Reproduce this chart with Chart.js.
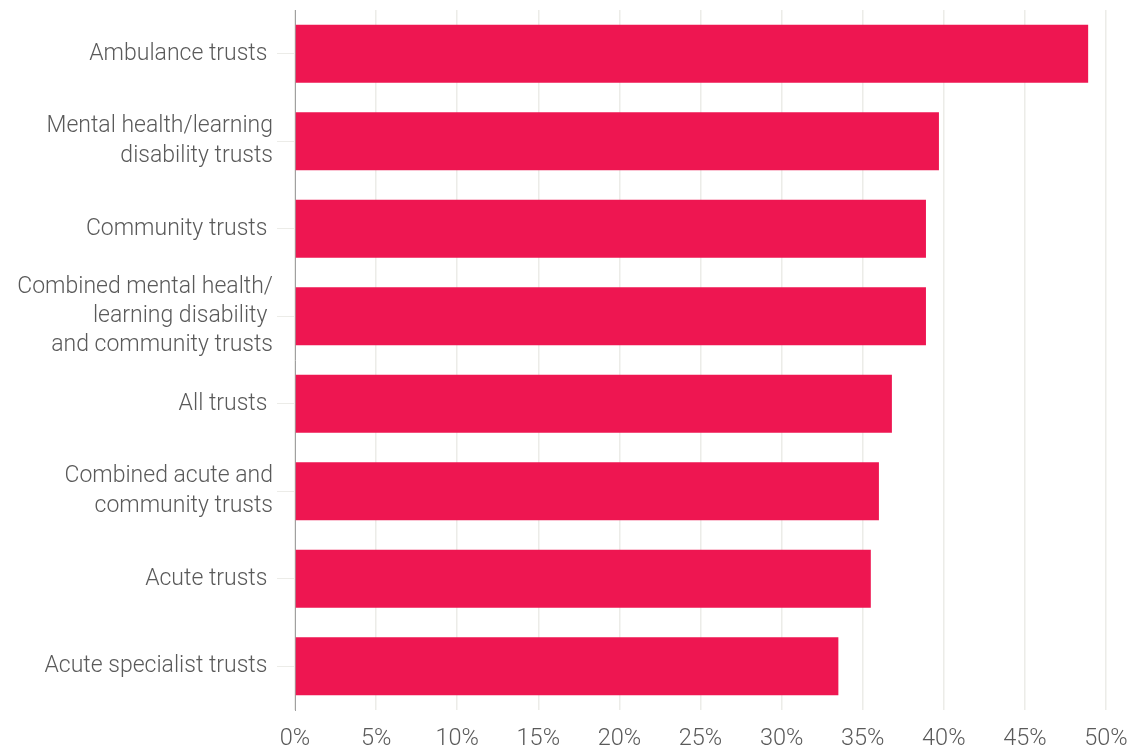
<!DOCTYPE html>
<html>
<head>
<meta charset="utf-8">
<script src="https://cdn.jsdelivr.net/npm/chart.js@4"></script>
<style>
  html, body { margin: 0; padding: 0; background: #ffffff; }
  #wrap { width: 1136px; height: 749px; position: relative; }
</style>
</head>
<body>
<div id="wrap"><canvas id="c"></canvas></div>
<script>
const categories = [
  ["Ambulance trusts "],
  ["Mental health/learning", "disability trusts"],
  ["Community trusts "],
  ["Combined mental health/", "learning disability ", "and community trusts"],
  ["All trusts "],
  ["Combined acute and", "community trusts"],
  ["Acute trusts "],
  ["Acute specialist trusts "]
];
const values = [48.9, 39.7, 38.9, 38.9, 36.8, 36.0, 35.5, 33.5];
const xTickValues = [0, 5, 10, 15, 20, 25, 30, 35, 40, 45, 50];

const FONT = "Roboto";
const TEXT = "#5a5a5a";

new Chart(document.getElementById('c'), {
  type: 'bar',
  data: {
    labels: categories,
    datasets: [{
      data: values,
      backgroundColor: '#ee1651',
      borderWidth: 0,
      barPercentage: 0.665,
      categoryPercentage: 1.0
    }]
  },
  options: {
    indexAxis: 'y',
    responsive: true,
    maintainAspectRatio: false,
    animation: false,
    layout: { padding: { top: 10, right: 30, bottom: 0, left: 0 } },
    plugins: { legend: { display: false }, tooltip: { enabled: false } },
    scales: {
      x: {
        min: 0,
        max: 50,
        afterBuildTicks: (scale) => { scale.ticks = xTickValues.map(v => ({ value: v })); },
        afterFit: (scale) => {
          scale.height = 39;
          scale.paddingLeft = 0; scale.paddingRight = 0;
          scale.paddingTop = 0; scale.paddingBottom = 0;
        },
        grid: { color: '#ecece8', lineWidth: 1.5, drawTicks: false },
        border: { display: false },
        ticks: {
          padding: 15,
          autoSkip: false,
          maxRotation: 0,
          color: TEXT,
          font: { family: FONT, size: 23.5, weight: 300 },
          callback: (v) => v + '%'
        }
      },
      y: {
        afterFit: (scale) => {
          scale.width = 295;
          scale.paddingLeft = 0; scale.paddingRight = 0;
          scale.paddingTop = 0; scale.paddingBottom = 0;
        },
        grid: { offset: false, drawOnChartArea: false, drawTicks: true, tickLength: 18, color: '#ecece8' },
        border: { display: true, color: '#a0a0a0', width: 1 },
        ticks: {
          padding: 4,
          autoSkip: false,
          color: TEXT,
          font: { family: FONT, size: 23, weight: 300, lineHeight: 1.27 }
        }
      }
    }
  }
});
</script>
</body>
</html>
